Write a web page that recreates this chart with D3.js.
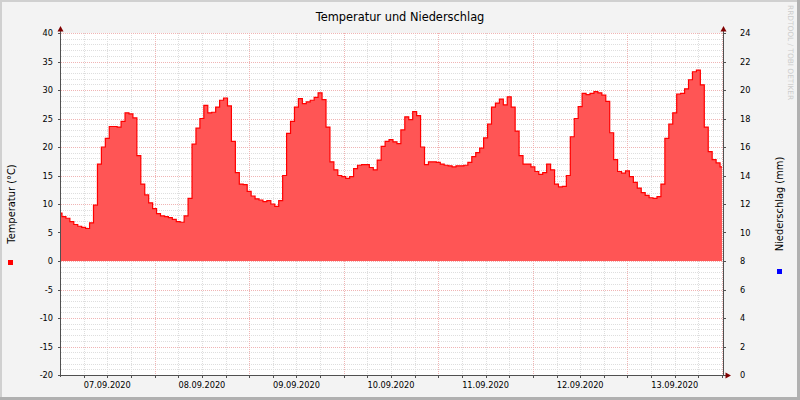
<!DOCTYPE html>
<html>
<head>
<meta charset="utf-8">
<script src="https://cdn.jsdelivr.net/npm/d3@7"></script>
<style>
  body { margin: 0; background: #fff; }
  svg { display: block; }
  text { font-family: "DejaVu Sans", sans-serif; fill: #000; }
</style>
</head>
<body>
<svg id="chart" width="800" height="400"></svg>
<script>
// hourly temperature readings (°C), first value at 07.09.2020 00:00
const temp0709 = [8.4, 7.8, 7.5, 6.9, 6.4, 6.1, 5.9, 5.7, 6.7, 9.8, 17.0, 20.0,
  21.5, 23.6, 23.6, 23.5, 24.5, 26.0, 25.8, 25.1, 18.5, 13.5, 11.6, 10.2]
const temp0809 = [9.2, 8.3, 7.9, 7.8, 7.6, 7.3, 6.9, 6.8, 7.9, 11.0, 20.5, 23.3,
  25.0, 27.3, 26.0, 26.1, 27.0, 28.2, 28.6, 27.2, 21.0, 15.5, 13.5, 13.4]
const temp0909 = [12.2, 11.4, 10.9, 10.7, 10.4, 10.6, 10.0, 9.6, 10.6, 15.0, 22.4, 24.5,
  27.0, 28.5, 27.6, 27.9, 28.2, 28.7, 29.5, 28.3, 23.5, 17.4, 16.0, 15.0]
const temp1009 = [14.8, 14.5, 14.8, 16.2, 16.8, 16.9, 16.9, 16.4, 16.0, 17.7, 20.1, 21.0,
  21.3, 20.9, 20.6, 23.0, 25.3, 24.8, 26.2, 25.5, 20.0, 16.9, 17.4, 17.4]
const temp1109 = [17.3, 17.0, 16.8, 16.7, 16.5, 16.7, 16.7, 16.8, 17.3, 18.3, 19.0, 19.8,
  21.6, 24.0, 27.0, 27.7, 28.4, 27.4, 28.8, 27.0, 22.8, 18.5, 17.0, 17.0]
const temp1209 = [16.5, 15.7, 15.2, 15.5, 17.0, 16.0, 13.5, 13.0, 13.1, 15.0, 21.8, 25.0,
  27.1, 29.4, 29.2, 29.4, 29.7, 29.5, 29.1, 28.0, 22.5, 17.8, 15.7, 15.4]
const temp1309 = [15.8, 14.8, 13.8, 12.8, 12.0, 11.5, 11.1, 11.0, 11.3, 13.5, 21.5, 24.0,
  26.0, 29.3, 29.4, 30.2, 31.8, 33.2, 33.5, 30.9, 23.5, 19.2, 17.8, 17.2]
const temp1409 = [16.5]

const dayLabels = ['07.09.2020', '08.09.2020', '09.09.2020', '10.09.2020',
  '11.09.2020', '12.09.2020', '13.09.2020']
const tempTicks = [-20, -15, -10, -5, 0, 5, 10, 15, 20, 25, 30, 35, 40]
const rainTicks = [0, 2, 4, 6, 8, 10, 12, 14, 16, 18, 20, 22, 24]

const start = new Date(2020, 8, 7, 0, 0)
const temperature = [].concat(temp0709, temp0809, temp0909, temp1009, temp1109, temp1209, temp1309, temp1409)
const data = temperature.map((v, i) => ({ t: d3.timeHour.offset(start, i), v }))

const plot = { left: 61, right: 723, top: 33, bottom: 375 }
const px = v => Math.round(v) + 0.5

const x = d3.scaleTime()
  .domain([d3.timeMinute.offset(start, 15), d3.timeMinute.offset(start, 15 + 7 * 24 * 60)])
  .range([plot.left, plot.right])
const y = d3.scaleLinear().domain([-20, 40]).range([plot.bottom, plot.top])
const y2 = d3.scaleLinear().domain([0, 24]).range([plot.bottom, plot.top])

const svg = d3.select('#chart')

// background and shaded frame
svg.append('rect').attr('width', 800).attr('height', 400).attr('fill', '#f3f3f3')
svg.append('rect').attr('width', 800).attr('height', 2).attr('fill', '#d0d0d0')
svg.append('rect').attr('width', 2).attr('height', 400).attr('fill', '#d0d0d0')
svg.append('rect').attr('y', 397).attr('width', 800).attr('height', 3).attr('fill', '#b0b0b0')
svg.append('rect').attr('x', 797).attr('width', 3).attr('height', 400).attr('fill', '#b0b0b0')

svg.append('rect')
  .attr('x', plot.left).attr('y', plot.top)
  .attr('width', plot.right - plot.left).attr('height', plot.bottom - plot.top)
  .attr('fill', '#fff')

svg.append('clipPath').attr('id', 'clip')
  .append('rect')
  .attr('x', plot.left).attr('y', plot.top)
  .attr('width', plot.right - plot.left).attr('height', plot.bottom - plot.top)

// grid
const grid = svg.append('g').attr('fill', 'none').attr('stroke-dasharray', '1,1')
const minorY = d3.range(-20, 41).filter(v => v % 5 !== 0)
grid.selectAll('.gy').data(minorY).enter().append('line')
  .attr('x1', plot.left).attr('x2', plot.right)
  .attr('y1', d => px(y(d))).attr('y2', d => px(y(d)))
  .attr('stroke', '#dedede')
const sixHours = d3.timeHour.every(6).range(x.domain()[0], x.domain()[1])
grid.selectAll('.gx').data(sixHours.filter(d => d.getHours() !== 0)).enter().append('line')
  .attr('x1', d => px(x(d))).attr('x2', d => px(x(d)))
  .attr('y1', plot.top).attr('y2', plot.bottom)
  .attr('stroke', '#dedede')
grid.selectAll('.my').data(tempTicks).enter().append('line')
  .attr('x1', plot.left).attr('x2', plot.right)
  .attr('y1', d => px(y(d))).attr('y2', d => px(y(d)))
  .attr('stroke', '#f0b4b4')
const midnights = d3.timeDay.range(x.domain()[0], x.domain()[1])
grid.selectAll('.mx').data(midnights).enter().append('line')
  .attr('x1', d => px(x(d))).attr('x2', d => px(x(d)))
  .attr('y1', plot.top).attr('y2', plot.bottom)
  .attr('stroke', '#f0b4b4')

// temperature area
const area = d3.area().curve(d3.curveStep)
  .x(d => x(d.t)).y0(y(0)).y1(d => y(d.v))
const line = d3.line().curve(d3.curveStep)
  .x(d => x(d.t)).y(d => y(d.v))
const series = svg.append('g').attr('clip-path', 'url(#clip)')
series.append('path').datum(data).attr('d', area).attr('fill', '#ff5555')
series.append('path').datum(data).attr('d', line)
  .attr('fill', 'none').attr('stroke', '#ff0000').attr('stroke-width', 1.2)

// axes lines and ticks
const axes = svg.append('g').attr('stroke', '#505050').attr('fill', 'none')
axes.append('line').attr('x1', 60.5).attr('x2', 60.5).attr('y1', plot.top - 2).attr('y2', plot.bottom + 2)
axes.append('line').attr('x1', 723.5).attr('x2', 723.5).attr('y1', plot.top - 2).attr('y2', plot.bottom)
axes.append('line').attr('x1', plot.left - 2).attr('x2', 726).attr('y1', 375.5).attr('y2', 375.5)
axes.selectAll('.tl').data(tempTicks).enter().append('line')
  .attr('x1', 58).attr('x2', 61).attr('y1', d => px(y(d))).attr('y2', d => px(y(d)))
axes.selectAll('.tr').data(rainTicks).enter().append('line')
  .attr('x1', 723).attr('x2', 726).attr('y1', d => px(y2(d))).attr('y2', d => px(y2(d)))
axes.selectAll('.tb').data(sixHours).enter().append('line')
  .attr('x1', d => px(x(d))).attr('x2', d => px(x(d))).attr('y1', 375).attr('y2', 378)

// arrow heads
const arrows = svg.append('g').attr('fill', '#800000')
arrows.append('path').attr('d', 'M57.5,31.5 L63.5,31.5 L60.5,26 Z')
arrows.append('path').attr('d', 'M720.5,31.5 L726.5,31.5 L723.5,26 Z')
arrows.append('path').attr('d', 'M725.5,372.5 L725.5,378.5 L731,375.5 Z')

// tick labels
const labels = svg.append('g').attr('font-size', 8.2)
labels.selectAll('.ly').data(tempTicks).enter().append('text')
  .attr('x', 53).attr('y', d => y(d) + 3).attr('text-anchor', 'end')
  .text(d => d)
labels.selectAll('.ry').data(rainTicks).enter().append('text')
  .attr('x', 740).attr('y', d => y2(d) + 3)
  .text(d => d)
labels.selectAll('.lx').data(dayLabels).enter().append('text')
  .attr('x', (d, i) => x(d3.timeHour.offset(start, i * 24 + 12)))
  .attr('y', 387.5).attr('text-anchor', 'middle')
  .text(d => d)

// title, axis titles, legend markers
svg.append('text').attr('x', 400).attr('y', 20.5).attr('text-anchor', 'middle')
  .attr('font-size', 11.4).text('Temperatur und Niederschlag')
svg.append('text').attr('transform', 'translate(14.5,204) rotate(-90)')
  .attr('text-anchor', 'middle').attr('font-size', 9.9).text('Temperatur (°C)')
svg.append('text').attr('transform', 'translate(782.5,204) rotate(-90)')
  .attr('text-anchor', 'middle').attr('font-size', 9.9).text('Niederschlag (mm)')
svg.append('rect').attr('x', 8).attr('y', 260).attr('width', 5).attr('height', 5).attr('fill', '#ff0000')
svg.append('rect').attr('x', 777).attr('y', 269).attr('width', 5).attr('height', 5).attr('fill', '#0000ff')

svg.append('text').attr('transform', 'translate(787.5,5) rotate(90)')
  .attr('font-size', 7.4).style('fill', '#cccccc').text('RRDTOOL / TOBI OETIKER')
</script>
</body>
</html>
